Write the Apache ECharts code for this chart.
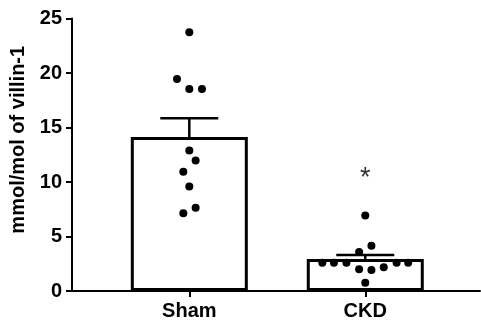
<!DOCTYPE html>
<html>
<head>
<meta charset="utf-8">
<script src="https://cdn.jsdelivr.net/npm/echarts@6/dist/echarts.min.js"></script>
<style>
html,body{margin:0;padding:0;background:#fff;}
#chart{width:481px;height:326px;}
</style>
</head>
<body>
<div id="chart"></div>
<script>
// ---- data ----
const categories = ['Sham', 'CKD'];
const categoryPos = [1, 2];
const means = [14.13, 2.93];
const sems = [1.71, 0.37];
const shamPoints = [23.74, 19.46, 18.54, 18.54, 12.9, 11.98, 10.94, 9.59, 7.63, 7.14];
const shamJitter = [0, -0.07, 0, 0.072, 0, 0.036, -0.034, 0, 0.036, -0.034];
const ckdPoints = [6.92, 4.14, 3.58, 2.6, 2.6, 2.6, 2.6, 2.6, 2.18, 1.99, 1.93, 0.76];
const ckdJitter = [0, 0.035, -0.035, -0.244, -0.178, -0.107, 0.178, 0.244, 0.105, -0.035, 0.035, 0];
const significance = ['', '*'];
const significanceY = [0, 10.3];
const yTicks = [0, 5, 10, 15, 20, 25];
const yName = 'mmol/mol of villin-1';

const FONT = '"Liberation Sans", Arial, Helvetica, sans-serif';

const barData = categoryPos.map((x, i) => [x, means[i]]);
const errData = categoryPos.map((x, i) => [x, means[i], sems[i]]);
const dotData = shamPoints.map((v, i) => [categoryPos[0] + shamJitter[i], v])
  .concat(ckdPoints.map((v, i) => [categoryPos[1] + ckdJitter[i], v]));
const sigData = categoryPos.map((x, i) => ({ value: [x, significanceY[i]], name: significance[i] }))
  .filter(d => d.name !== '');

const chart = echarts.init(document.getElementById('chart'), null, { renderer: 'canvas' });
chart.setOption({
  animation: false,
  backgroundColor: '#fff',
  grid: { left: 72, right: 1, top: 18.5, bottom: 35, containLabel: false },
  xAxis: {
    type: 'value',
    min: 1 / 3,
    max: 2.652,
    splitLine: { show: false },
    axisLine: { show: true, lineStyle: { color: '#000', width: 2 } },
    axisTick: { show: true, customValues: categoryPos, length: 6, lineStyle: { color: '#000', width: 2 } },
    axisLabel: {
      customValues: categoryPos,
      formatter: v => categories[categoryPos.indexOf(Math.round(v))] || '',
      color: '#000', fontSize: 20, fontWeight: 'bold', fontFamily: FONT, margin: 10
    }
  },
  yAxis: {
    type: 'value',
    min: 0, max: 25, interval: 5,
    splitLine: { show: false },
    axisLine: { show: true, lineStyle: { color: '#000', width: 2 } },
    axisTick: { show: true, length: 6, lineStyle: { color: '#000', width: 2 } },
    axisLabel: { color: '#000', fontSize: 20, fontWeight: 'bold', fontFamily: FONT, margin: 10 },
    name: yName,
    nameLocation: 'middle',
    nameGap: 44,
    nameTextStyle: { color: '#000', fontSize: 20, fontWeight: 'bold', fontFamily: FONT, padding: [0, 0, 0, 30] }
  },
  series: [
    {
      type: 'bar',
      data: barData,
      barWidth: 117,
      itemStyle: { color: '#fff', borderColor: '#000', borderWidth: 3 },
      z: 2
    },
    {
      type: 'custom',
      data: errData,
      z: 3,
      renderItem: function (params, api) {
        const x = api.value(0), m = api.value(1), s = api.value(2);
        const base = api.coord([x, m]);
        const top = api.coord([x, m + s]);
        const hw = 29;
        return {
          type: 'group',
          children: [
            { type: 'line', shape: { x1: base[0], y1: base[1], x2: top[0], y2: top[1] }, style: { stroke: '#000', lineWidth: 2.5 } },
            { type: 'line', shape: { x1: top[0] - hw, y1: top[1], x2: top[0] + hw, y2: top[1] }, style: { stroke: '#000', lineWidth: 2.5 } }
          ]
        };
      }
    },
    {
      type: 'scatter',
      data: dotData,
      symbol: 'circle',
      symbolSize: 8,
      itemStyle: { color: '#000', opacity: 1 },
      z: 4
    },
    {
      type: 'scatter',
      data: sigData,
      symbolSize: 0,
      z: 5,
      label: {
        show: true, position: 'inside', formatter: p => p.name,
        color: '#000', fontSize: 27, fontFamily: FONT
      }
    }
  ]
});
</script>
</body>
</html>
